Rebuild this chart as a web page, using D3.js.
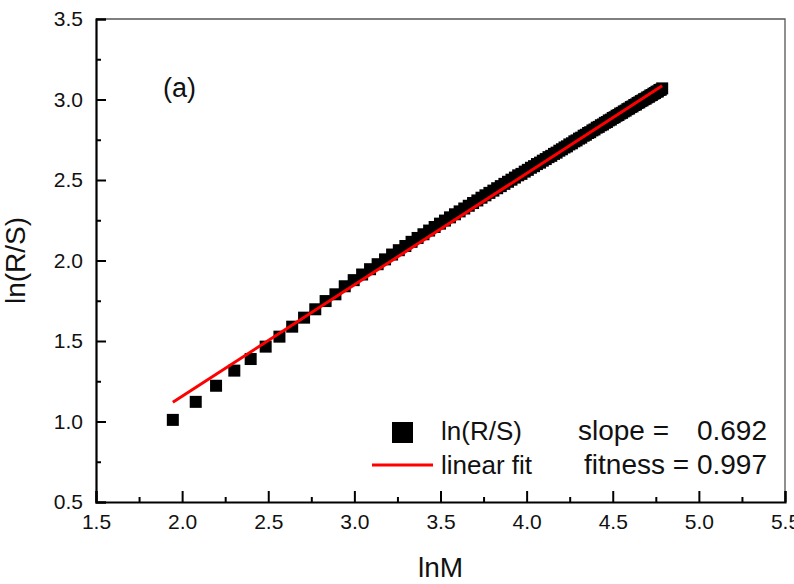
<!DOCTYPE html>
<html>
<head>
<meta charset="utf-8">
<script src="https://cdn.jsdelivr.net/npm/d3@7"></script>
<style>
  body { margin: 0; background: #fff; }
  svg { display: block; font-family: "Liberation Sans", Arial, sans-serif; }
</style>
</head>
<body>
<div id="chart"></div>
<script>
// ************************** data **************************
// lnM : log of the window size M (7 ... 120)
const lnM = [
  1.946, 2.079, 2.197, 2.303, 2.398, 2.485, 2.565, 2.639, 2.708, 2.773,
  2.833, 2.890, 2.944, 2.996, 3.045, 3.091, 3.135, 3.178, 3.219, 3.258,
  3.296, 3.332, 3.367, 3.401, 3.434, 3.466, 3.497, 3.526, 3.555, 3.584,
  3.611, 3.638, 3.664, 3.689, 3.714, 3.738, 3.761, 3.784, 3.807, 3.829,
  3.850, 3.871, 3.892, 3.912, 3.932, 3.951, 3.970, 3.989, 4.007, 4.025,
  4.043, 4.060, 4.078, 4.094, 4.111, 4.127, 4.143, 4.159, 4.174, 4.190,
  4.205, 4.220, 4.234, 4.248, 4.263, 4.277, 4.290, 4.304, 4.317, 4.331,
  4.344, 4.357, 4.369, 4.382, 4.394, 4.407, 4.419, 4.431, 4.443, 4.454,
  4.466, 4.477, 4.489, 4.500, 4.511, 4.522, 4.533, 4.543, 4.554, 4.564,
  4.575, 4.585, 4.595, 4.605, 4.615, 4.625, 4.635, 4.644, 4.654, 4.663,
  4.673, 4.682, 4.691, 4.700, 4.710, 4.718, 4.727, 4.736, 4.745, 4.754,
  4.762, 4.771, 4.779, 4.787,
];
// ln(R/S)
const lnRS = [
  1.010, 1.122, 1.222, 1.316, 1.388, 1.465, 1.527, 1.589, 1.645, 1.697,
  1.748, 1.790, 1.840, 1.878, 1.913, 1.946, 1.977, 2.007, 2.037, 2.064,
  2.090, 2.116, 2.140, 2.163, 2.186, 2.208, 2.229, 2.248, 2.268, 2.287,
  2.305, 2.323, 2.340, 2.357, 2.373, 2.390, 2.405, 2.420, 2.434, 2.449,
  2.462, 2.476, 2.489, 2.502, 2.515, 2.529, 2.538, 2.552, 2.563, 2.576,
  2.586, 2.599, 2.608, 2.620, 2.630, 2.642, 2.650, 2.662, 2.670, 2.682,
  2.691, 2.702, 2.709, 2.721, 2.728, 2.740, 2.746, 2.757, 2.763, 2.775,
  2.781, 2.792, 2.797, 2.808, 2.814, 2.825, 2.830, 2.840, 2.845, 2.855,
  2.860, 2.870, 2.875, 2.885, 2.890, 2.899, 2.904, 2.913, 2.917, 2.926,
  2.931, 2.940, 2.944, 2.953, 2.957, 2.966, 2.969, 2.978, 2.982, 2.990,
  2.994, 3.002, 3.005, 3.013, 3.017, 3.025, 3.028, 3.036, 3.040, 3.048,
  3.050, 3.059, 3.061, 3.069,
];
// linear fit result
const slope = 0.692;
const intercept = -0.227;
const fitness = 0.997;

const xTicks = [1.5, 2.0, 2.5, 3.0, 3.5, 4.0, 4.5, 5.0, 5.5];
const xMinor = [1.75, 2.25, 2.75, 3.25, 3.75, 4.25, 4.75, 5.25];
const yTicks = [0.5, 1.0, 1.5, 2.0, 2.5, 3.0, 3.5];
const yMinor = [0.75, 1.25, 1.75, 2.25, 2.75, 3.25];

// ************************** chart **************************
const width = 794;
const height = 584;
const marginTop = 19; // top margin, in pixels
const marginRight = 9; // right margin, in pixels
const marginBottom = 82; // bottom margin, in pixels
const marginLeft = 96; // left margin, in pixels
const sq = 12; // marker size

const xScale = d3.scaleLinear([1.5, 5.5], [marginLeft, width - marginRight]);
const yScale = d3.scaleLinear([0.5, 3.5], [height - marginBottom, marginTop]);

const svg = d3
  .create("svg")
  .attr("width", width)
  .attr("height", height);

// frame: thin top / right borders
svg
  .append("path")
  .attr("fill", "none")
  .attr("stroke", "#555")
  .attr("stroke-width", 1.3)
  .attr(
    "d",
    `M${xScale(1.5)},${yScale(3.5)}H${xScale(5.5)}V${yScale(0.5)}`
  );

// data squares
svg
  .append("g")
  .attr("fill", "black")
  .selectAll("rect")
  .data(d3.range(lnM.length))
  .join("rect")
  .attr("x", (i) => xScale(lnM[i]) - sq / 2)
  .attr("y", (i) => yScale(lnRS[i]) - sq / 2)
  .attr("width", sq)
  .attr("height", sq);

// fit line
const fitX = d3.extent(lnM);
const line = d3
  .line()
  .x((d) => xScale(d))
  .y((d) => yScale(intercept + slope * d));

svg
  .append("path")
  .attr("fill", "none")
  .attr("stroke", "#ff0000")
  .attr("stroke-width", 3)
  .attr("d", line(fitX));

// y axis
svg
  .append("g")
  .attr("transform", `translate(${marginLeft},0)`)
  .call(
    d3
      .axisLeft(yScale)
      .tickValues(yTicks)
      .tickFormat(d3.format(".1f"))
      .tickSize(-10)
      .tickPadding(13)
  )
  .call((g) => g.select(".domain").attr("stroke-width", 2.2))
  .call((g) => g.selectAll(".tick line").attr("stroke-width", 2))
  .call((g) =>
    g
      .selectAll(".tick text")
      .attr("font-size", 21)
      .attr("fill", "#111")
  );

svg
  .append("g")
  .attr("transform", `translate(${marginLeft},0)`)
  .call(d3.axisLeft(yScale).tickValues(yMinor).tickSize(-5).tickFormat(""))
  .call((g) => g.select(".domain").remove())
  .call((g) => g.selectAll(".tick line").attr("stroke-width", 2));

// x axis
svg
  .append("g")
  .attr("transform", `translate(0,${height - marginBottom})`)
  .call(
    d3
      .axisBottom(xScale)
      .tickValues(xTicks)
      .tickFormat(d3.format(".1f"))
      .tickSize(-11)
      .tickPadding(12)
  )
  .call((g) => g.select(".domain").attr("stroke-width", 2.2))
  .call((g) => g.selectAll(".tick line").attr("stroke-width", 2))
  .call((g) =>
    g
      .selectAll(".tick text")
      .attr("font-size", 21)
      .attr("fill", "#111")
  );

svg
  .append("g")
  .attr("transform", `translate(0,${height - marginBottom})`)
  .call(d3.axisBottom(xScale).tickValues(xMinor).tickSize(-5).tickFormat(""))
  .call((g) => g.select(".domain").remove())
  .call((g) => g.selectAll(".tick line").attr("stroke-width", 2));

// axis titles
svg
  .append("text")
  .attr("x", (xScale(1.5) + xScale(5.5)) / 2)
  .attr("y", 577)
  .attr("text-anchor", "middle")
  .attr("font-size", 28)
  .attr("fill", "#111")
  .text("lnM");

svg
  .append("text")
  .attr("transform", `translate(25,${(yScale(0.5) + yScale(3.5)) / 2}) rotate(-90)`)
  .attr("text-anchor", "middle")
  .attr("font-size", 28)
  .attr("fill", "#111")
  .text("ln(R/S)");

// panel label
svg
  .append("text")
  .attr("x", 163)
  .attr("y", 97)
  .attr("font-size", 27)
  .attr("fill", "#111")
  .text("(a)");

// ************************** legend **************************
const legend = svg.append("g").attr("font-size", 26).attr("fill", "#111");

legend
  .append("rect")
  .attr("x", 392)
  .attr("y", 422)
  .attr("width", 21)
  .attr("height", 21)
  .attr("fill", "black");

legend.append("text").attr("x", 441).attr("y", 440).text("ln(R/S)");

legend
  .append("line")
  .attr("x1", 372)
  .attr("x2", 433)
  .attr("y1", 465)
  .attr("y2", 465)
  .attr("stroke", "#ff0000")
  .attr("stroke-width", 3);

legend.append("text").attr("x", 441).attr("y", 474).text("linear fit");

// fit summary
const stats = svg.append("g").attr("font-size", 28).attr("fill", "#111");

stats.append("text").attr("x", 578).attr("y", 440).text("slope =");
stats
  .append("text")
  .attr("x", 767)
  .attr("y", 440)
  .attr("text-anchor", "end")
  .text(d3.format(".3f")(slope));

stats
  .append("text")
  .attr("x", 767)
  .attr("y", 474)
  .attr("text-anchor", "end")
  .text(`fitness = ${d3.format(".3f")(fitness)}`);

d3.select("#chart").node().appendChild(svg.node());
</script>
</body>
</html>
